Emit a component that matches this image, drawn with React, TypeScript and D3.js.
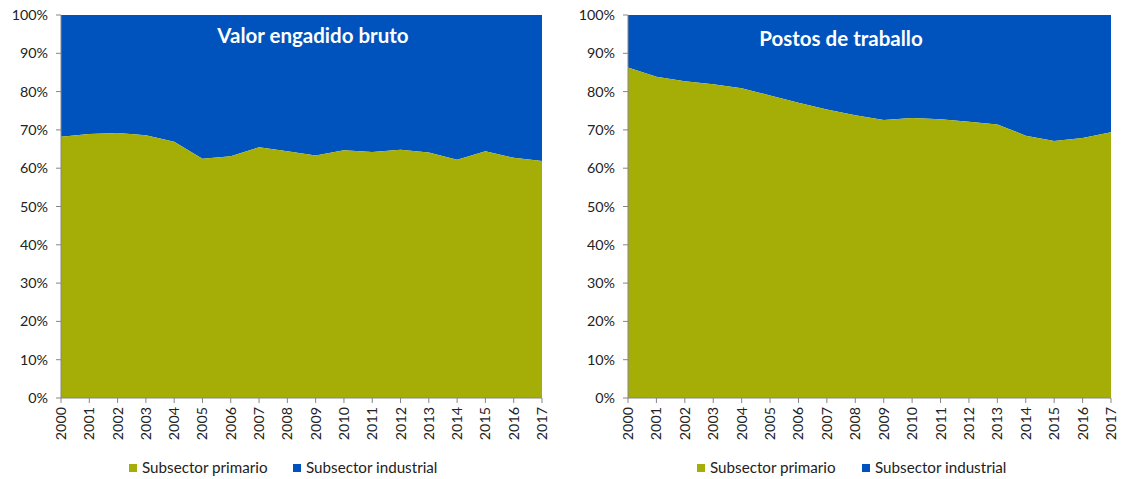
import React from "react";
import * as d3 from "d3";

const years = ["2000","2001","2002","2003","2004","2005","2006","2007","2008","2009","2010","2011","2012","2013","2014","2015","2016","2017"];
const vabPrimario = [68.2,68.9,69.2,68.6,66.9,62.5,63.1,65.5,64.4,63.3,64.7,64.2,64.8,64.1,62.2,64.4,62.7,61.9];
const postosPrimario = [86.3,83.9,82.7,81.9,80.9,79.0,77.1,75.3,73.8,72.6,73.1,72.8,72.1,71.4,68.5,67.1,67.9,69.4];
const yTicks = [0,10,20,30,40,50,60,70,80,90,100];
const seriesNames = ["Subsector primario","Subsector industrial"];
const colors = ["#A5AE06","#0053BD"];

const W = 1121, H = 479;
const FONT = "Lato, 'Open Sans', sans-serif";

function Panel({ x0, x1, title, titleX, titleY, values, legendX }: any) {
  const top = 15, bottom = 398;
  const x = d3.scalePoint<string>().domain(years).range([x0, x1]);
  const y = d3.scaleLinear().domain([0, 100]).range([bottom, top]);
  const data = years.map((yr, i) => ({ yr, p: values[i] }));
  const areaP = d3.area<any>().x(d => x(d.yr)!).y0(y(0)).y1(d => y(d.p));
  const areaI = d3.area<any>().x(d => x(d.yr)!).y0(d => y(d.p)).y1(y(100));
  const axisColor = "#868686";
  return (
    <g>
      <path d={areaI(data)!} fill={colors[1]} />
      <path d={areaP(data)!} fill={colors[0]} />
      <text x={titleX} y={titleY} textAnchor="middle" fill="#fff" fontWeight="bold" fontSize={20.5} fontFamily={FONT}>{title}</text>
      <line x1={x0} x2={x0} y1={top} y2={bottom} stroke={axisColor} strokeWidth={1} />
      <line x1={x0} x2={x1} y1={bottom} y2={bottom} stroke={axisColor} strokeWidth={1} />
      {yTicks.map(t => (
        <g key={t}>
          <line x1={x0 - 5} x2={x0} y1={y(t)} y2={y(t)} stroke={axisColor} />
          <text x={x0 - 13} y={y(t)} dy="0.35em" textAnchor="end" fontSize={14.3} fontFamily={FONT} fill="#222">{t}%</text>
        </g>
      ))}
      {years.map(yr => (
        <g key={yr}>
          <line x1={x(yr)} x2={x(yr)} y1={bottom} y2={bottom + 5} stroke={axisColor} />
          <text transform={`translate(${x(yr)! + 5},${bottom + 9}) rotate(-90)`} textAnchor="end" fontSize={14.3} fontFamily={FONT} fill="#222">{yr}</text>
        </g>
      ))}
      {seriesNames.map((n, i) => {
        const lx = legendX[i];
        return (
          <g key={n}>
            <rect x={lx} y={464} width={8} height={8} fill={colors[i]} />
            <text x={lx + 13} y={468} dy="0.35em" fontSize={15.2} fontFamily={FONT} fill="#222">{n}</text>
          </g>
        );
      })}
    </g>
  );
}

export default function App() {
  return (
    <svg width={W} height={H} style={{ position: "absolute", left: 0, top: 0, background: "#fff" }}>
      <Panel x0={61} x1={542} title="Valor engadido bruto" titleX={313} titleY={43} values={vabPrimario} legendX={[129, 293]} />
      <Panel x0={628} x1={1111} title="Postos de traballo" titleX={841} titleY={46} values={postosPrimario} legendX={[697, 862]} />
    </svg>
  );
}
